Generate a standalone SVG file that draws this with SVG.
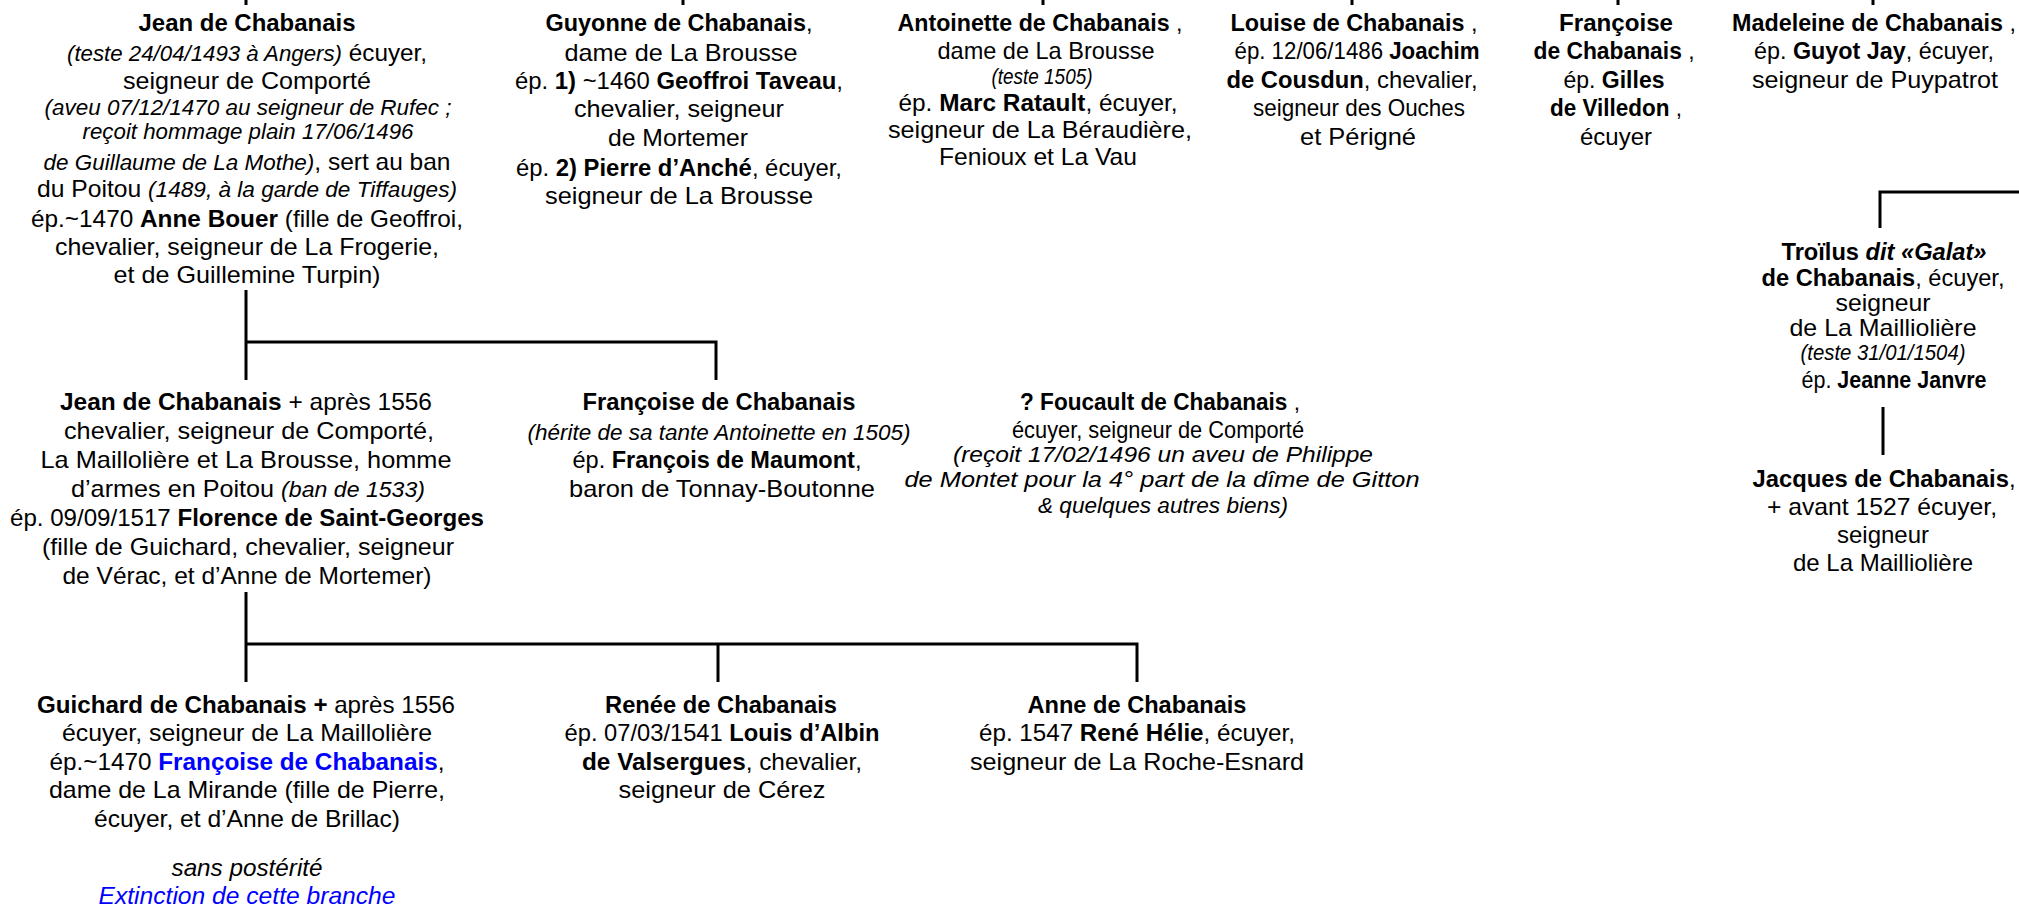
<svg xmlns="http://www.w3.org/2000/svg" width="2019" height="905" viewBox="0 0 2019 905">
<style>
text{font-family:"Liberation Sans",Arial,sans-serif;font-size:24px;text-anchor:middle;fill:#000}
.i{font-style:italic;font-size:22px}
.ib{font-style:italic;font-size:24px}
.b{font-weight:bold}
.blue{fill:#0000ff}
.c{fill:none;stroke:#000;stroke-width:3}
</style>
<rect width="2019" height="905" fill="#fff"/>
<g id="connectors" class="c">
<path d="M246 0V5M683 0V5M1043 0V5M1352 0V5M1618 0V5M1873 0V5"/>
<path d="M246 290V380M246 342H716V380"/>
<path d="M1880 228V192H2019"/>
<path d="M1883 407V455"/>
<path d="M246 592V682M246 644H1137V682M718 644V682"/>
</g>
<g id="jean1">
<text x="247" y="31" textLength="217" lengthAdjust="spacingAndGlyphs" class="b">Jean de Chabanais</text>
<text x="247" y="61" textLength="360" lengthAdjust="spacingAndGlyphs"><tspan class="i">(teste 24/04/1493 à Angers)</tspan> écuyer,</text>
<text x="247" y="89" textLength="248" lengthAdjust="spacingAndGlyphs">seigneur de Comporté</text>
<text x="248" y="115" textLength="407" lengthAdjust="spacingAndGlyphs" class="i">(aveu 07/12/1470 au seigneur de Rufec ;</text>
<text x="248" y="139" textLength="331" lengthAdjust="spacingAndGlyphs" class="i">reçoit hommage plain 17/06/1496</text>
<text x="247" y="170" textLength="407" lengthAdjust="spacingAndGlyphs"><tspan class="i">de Guillaume de La Mothe)</tspan>, sert au ban</text>
<text x="247" y="197" textLength="420" lengthAdjust="spacingAndGlyphs">du Poitou <tspan class="i">(1489, à la garde de Tiffauges)</tspan></text>
<text x="247" y="227" textLength="432" lengthAdjust="spacingAndGlyphs">ép.~1470 <tspan class="b">Anne Bouer</tspan> (fille de Geoffroi,</text>
<text x="247" y="255" textLength="384" lengthAdjust="spacingAndGlyphs">chevalier, seigneur de La Frogerie,</text>
<text x="247" y="283" textLength="267" lengthAdjust="spacingAndGlyphs">et de Guillemine Turpin)</text>
</g>
<g id="guyonne">
<text x="679" y="31" textLength="267" lengthAdjust="spacingAndGlyphs"><tspan class="b">Guyonne de Chabanais</tspan>,</text>
<text x="681" y="61" textLength="233" lengthAdjust="spacingAndGlyphs">dame de La Brousse</text>
<text x="679" y="89" textLength="328" lengthAdjust="spacingAndGlyphs">ép. <tspan class="b">1)</tspan> ~1460 <tspan class="b">Geoffroi Taveau</tspan>,</text>
<text x="679" y="117" textLength="210" lengthAdjust="spacingAndGlyphs">chevalier, seigneur</text>
<text x="678" y="146" textLength="140" lengthAdjust="spacingAndGlyphs">de Mortemer</text>
<text x="679" y="176" textLength="326" lengthAdjust="spacingAndGlyphs">ép. <tspan class="b">2) Pierre d’Anché</tspan>, écuyer,</text>
<text x="679" y="204" textLength="268" lengthAdjust="spacingAndGlyphs">seigneur de La Brousse</text>
</g>
<g id="antoinette">
<text x="1040" y="31" textLength="285" lengthAdjust="spacingAndGlyphs"><tspan class="b">Antoinette de Chabanais</tspan> ,</text>
<text x="1046" y="59" textLength="217" lengthAdjust="spacingAndGlyphs">dame de La Brousse</text>
<text x="1042" y="84" textLength="101" lengthAdjust="spacingAndGlyphs" class="i">(teste 1505)</text>
<text x="1038" y="111" textLength="279" lengthAdjust="spacingAndGlyphs">ép. <tspan class="b">Marc Ratault</tspan>, écuyer,</text>
<text x="1040" y="138" textLength="304" lengthAdjust="spacingAndGlyphs">seigneur de La Béraudière,</text>
<text x="1038" y="165" textLength="198" lengthAdjust="spacingAndGlyphs">Fenioux et La Vau</text>
</g>
<g id="louise">
<text x="1354" y="31" textLength="247" lengthAdjust="spacingAndGlyphs"><tspan class="b">Louise de Chabanais</tspan> ,</text>
<text x="1357" y="59" textLength="245" lengthAdjust="spacingAndGlyphs">ép. 12/06/1486 <tspan class="b">Joachim</tspan></text>
<text x="1352" y="88" textLength="251" lengthAdjust="spacingAndGlyphs"><tspan class="b">de Cousdun</tspan>, chevalier,</text>
<text x="1359" y="116" textLength="212" lengthAdjust="spacingAndGlyphs">seigneur des Ouches</text>
<text x="1358" y="145" textLength="116" lengthAdjust="spacingAndGlyphs">et Périgné</text>
</g>
<g id="francoise1">
<text x="1616" y="31" textLength="114" lengthAdjust="spacingAndGlyphs" class="b">Françoise</text>
<text x="1614" y="59" textLength="161" lengthAdjust="spacingAndGlyphs"><tspan class="b">de Chabanais</tspan> ,</text>
<text x="1614" y="88" textLength="101" lengthAdjust="spacingAndGlyphs">ép. <tspan class="b">Gilles</tspan></text>
<text x="1616" y="116" textLength="132" lengthAdjust="spacingAndGlyphs"><tspan class="b">de Villedon</tspan> ,</text>
<text x="1616" y="145" textLength="72" lengthAdjust="spacingAndGlyphs">écuyer</text>
</g>
<g id="madeleine">
<text x="1874" y="31" textLength="284" lengthAdjust="spacingAndGlyphs"><tspan class="b">Madeleine de Chabanais</tspan> ,</text>
<text x="1874" y="59" textLength="240" lengthAdjust="spacingAndGlyphs">ép. <tspan class="b">Guyot Jay</tspan>, écuyer,</text>
<text x="1875" y="88" textLength="246" lengthAdjust="spacingAndGlyphs">seigneur de Puypatrot</text>
</g>
<g id="troilus">
<text x="1884" y="260" textLength="205" lengthAdjust="spacingAndGlyphs"><tspan class="b">Troïlus </tspan><tspan class="b ib">dit «Galat»</tspan></text>
<text x="1883" y="286" textLength="243" lengthAdjust="spacingAndGlyphs"><tspan class="b">de Chabanais</tspan>, écuyer,</text>
<text x="1883" y="311" textLength="95" lengthAdjust="spacingAndGlyphs">seigneur</text>
<text x="1883" y="336" textLength="187" lengthAdjust="spacingAndGlyphs">de La Mailliolière</text>
<text x="1883" y="360" textLength="165" lengthAdjust="spacingAndGlyphs" class="i">(teste 31/01/1504)</text>
<text x="1894" y="388" textLength="185" lengthAdjust="spacingAndGlyphs">ép. <tspan class="b">Jeanne Janvre</tspan></text>
</g>
<g id="jacques">
<text x="1884" y="487" textLength="263" lengthAdjust="spacingAndGlyphs"><tspan class="b">Jacques de Chabanais</tspan>,</text>
<text x="1882" y="515" textLength="230" lengthAdjust="spacingAndGlyphs">+ avant 1527 écuyer,</text>
<text x="1883" y="543">seigneur</text>
<text x="1883" y="571">de La Mailliolière</text>
</g>
<g id="jean2">
<text x="246" y="410" textLength="372" lengthAdjust="spacingAndGlyphs"><tspan class="b">Jean de Chabanais</tspan> + après 1556</text>
<text x="249" y="439" textLength="370" lengthAdjust="spacingAndGlyphs">chevalier, seigneur de Comporté,</text>
<text x="246" y="468" textLength="411" lengthAdjust="spacingAndGlyphs">La Maillolière et La Brousse, homme</text>
<text x="248" y="497" textLength="354" lengthAdjust="spacingAndGlyphs">d’armes en Poitou <tspan class="i">(ban de 1533)</tspan></text>
<text x="247" y="526" textLength="474" lengthAdjust="spacingAndGlyphs">ép. 09/09/1517 <tspan class="b">Florence de Saint-Georges</tspan></text>
<text x="248" y="555" textLength="412" lengthAdjust="spacingAndGlyphs">(fille de Guichard, chevalier, seigneur</text>
<text x="247" y="584" textLength="369" lengthAdjust="spacingAndGlyphs">de Vérac, et d’Anne de Mortemer)</text>
</g>
<g id="francoise2">
<text x="719" y="410" textLength="273" lengthAdjust="spacingAndGlyphs" class="b">Françoise de Chabanais</text>
<text x="719" y="440" textLength="383" lengthAdjust="spacingAndGlyphs" class="i">(hérite de sa tante Antoinette en 1505)</text>
<text x="717" y="468" textLength="289" lengthAdjust="spacingAndGlyphs">ép. <tspan class="b">François de Maumont</tspan>,</text>
<text x="722" y="497" textLength="306" lengthAdjust="spacingAndGlyphs">baron de Tonnay-Boutonne</text>
</g>
<g id="foucault">
<text x="1160" y="410" textLength="280" lengthAdjust="spacingAndGlyphs"><tspan class="b">? Foucault de Chabanais</tspan> ,</text>
<text x="1158" y="438" textLength="292" lengthAdjust="spacingAndGlyphs">écuyer, seigneur de Comporté</text>
<text x="1163" y="462" textLength="420" lengthAdjust="spacingAndGlyphs" class="i">(reçoit 17/02/1496 un aveu de Philippe</text>
<text x="1162" y="487" textLength="515" lengthAdjust="spacingAndGlyphs" class="i">de Montet pour la 4° part de la dîme de Gitton</text>
<text x="1163" y="513" textLength="250" lengthAdjust="spacingAndGlyphs" class="i">&amp; quelques autres biens)</text>
</g>
<g id="guichard">
<text x="246" y="713" textLength="418" lengthAdjust="spacingAndGlyphs"><tspan class="b">Guichard de Chabanais +</tspan> après 1556</text>
<text x="247" y="741" textLength="370" lengthAdjust="spacingAndGlyphs">écuyer, seigneur de La Maillolière</text>
<text x="247" y="770" textLength="395" lengthAdjust="spacingAndGlyphs">ép.~1470 <tspan class="b blue">Françoise de Chabanais</tspan>,</text>
<text x="247" y="798" textLength="396" lengthAdjust="spacingAndGlyphs">dame de La Mirande (fille de Pierre,</text>
<text x="247" y="827" textLength="306" lengthAdjust="spacingAndGlyphs">écuyer, et d’Anne de Brillac)</text>
<text x="247" y="876" textLength="151" lengthAdjust="spacingAndGlyphs" class="ib">sans postérité</text>
<text x="247" y="904" textLength="297" lengthAdjust="spacingAndGlyphs" class="ib blue">Extinction de cette branche</text>
</g>
<g id="renee">
<text x="721" y="713" textLength="232" lengthAdjust="spacingAndGlyphs" class="b">Renée de Chabanais</text>
<text x="722" y="741" textLength="315" lengthAdjust="spacingAndGlyphs">ép. 07/03/1541 <tspan class="b">Louis d’Albin</tspan></text>
<text x="722" y="770" textLength="280" lengthAdjust="spacingAndGlyphs"><tspan class="b">de Valsergues</tspan>, chevalier,</text>
<text x="722" y="798" textLength="207" lengthAdjust="spacingAndGlyphs">seigneur de Cérez</text>
</g>
<g id="anne">
<text x="1137" y="713" textLength="219" lengthAdjust="spacingAndGlyphs" class="b">Anne de Chabanais</text>
<text x="1137" y="741" textLength="316" lengthAdjust="spacingAndGlyphs">ép. 1547 <tspan class="b">René Hélie</tspan>, écuyer,</text>
<text x="1137" y="770" textLength="334" lengthAdjust="spacingAndGlyphs">seigneur de La Roche-Esnard</text>
</g>
</svg>
